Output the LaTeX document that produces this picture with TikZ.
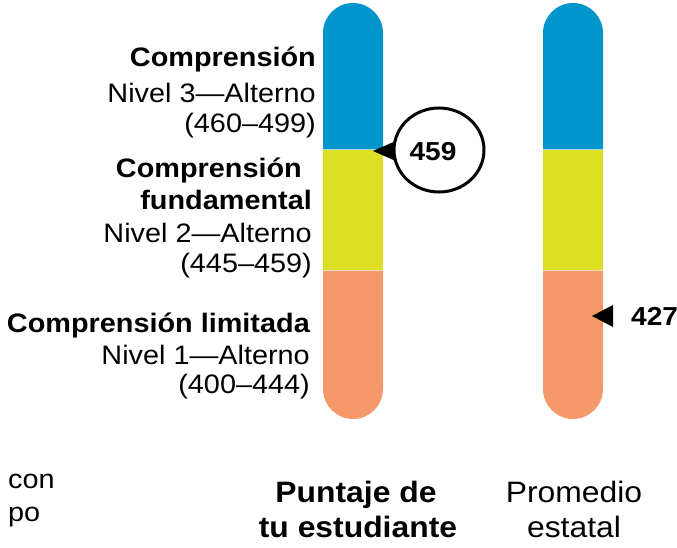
\documentclass[tikz,border=0pt]{standalone}
\usepackage{fontspec}
\setmainfont{Liberation Sans}[FakeStretch=1.08]
\usetikzlibrary{shapes.geometric}
\definecolor{barblue}{RGB}{0,150,204}
\definecolor{baryellow}{RGB}{221,224,34}
\definecolor{barorange}{RGB}{245,152,106}
\begin{document}
\begin{tikzpicture}[x=1pt,y=1pt,
  lbl/.style={font=\fontsize{26.7}{32}\selectfont, inner sep=0pt},
  lblb/.style={font=\fontsize{26.7}{32}\selectfont\bfseries, inner sep=0pt},
  axl/.style={font=\fontsize{29.5}{34}\selectfont, inner sep=0pt},
  axlb/.style={font=\fontsize{29.5}{34}\selectfont\bfseries, inner sep=0pt},
  scorefont/.style={font=\fontsize{26}{30}\selectfont\bfseries},
  pointer/.style={fill=black, draw=none}]
\useasboundingbox (0,0) rectangle (677,-548);
% bar 1
\fill[barblue] (323,-149.5) -- (323,-33) arc (180:0:30) -- (383,-149.5) -- cycle;
\fill[baryellow] (323,-150.5) rectangle (383,-269.5);
\fill[barorange] (323,-270.5) -- (383,-270.5) -- (383,-389) arc (0:-180:30) -- cycle;
% bar 2
\fill[barblue] (543,-149.5) -- (543,-33) arc (180:0:30) -- (603,-149.5) -- cycle;
\fill[baryellow] (543,-150.5) rectangle (603,-269.5);
\fill[barorange] (543,-270.5) -- (603,-270.5) -- (603,-389) arc (0:-180:30) -- cycle;
% left labels
\node[lblb, anchor=base east] (c3a) at (316,-67) {Comprensión};
\node[lbl, anchor=base east] (c3b) at (316,-103) {Nivel 3—Alterno};
\node[lbl, anchor=base east] (c3c) at (316,-133) {(460–499)};
\node[lblb, anchor=base east] (c2a) at (302,-178) {Comprensión};
\node[lblb, anchor=base east] (c2b) at (312,-210) {fundamental};
\node[lbl, anchor=base east] (c2c) at (312,-242) {Nivel 2—Alterno};
\node[lbl, anchor=base east] (c2d) at (312,-272) {(445–459)};
\node[lblb, anchor=base east] (c1a) at (310,-332) {Comprensión limitada};
\node[lbl, anchor=base east] (c1b) at (310,-364) {Nivel 1—Alterno};
\node[lbl, anchor=base east] (c1c) at (310,-393) {(400–444)};
% student score marker
\coordinate (tipA) at (373,-151);
\fill[pointer] (tipA) -- (398,-140) -- (398,-162) -- cycle;
\node[ellipse, draw=black, line width=3pt, fill=white, minimum width=90pt,
      minimum height=84pt, inner sep=0pt] (score) at (439,-150) {};
\node[scorefont, inner sep=0pt] (scoreval) at (433,-152) {459};
% state average marker
\coordinate (tipB) at (592,-316);
\fill[pointer] (tipB) -- (613,-305) -- (613,-327) -- cycle;
\node[scorefont, inner sep=0pt, anchor=base west] (avg) at (631,-325) {427};
% bottom labels
\node[lbl, anchor=base west] (l1) at (8,-488) {con};
\node[lbl, anchor=base west] (l2) at (8,-521) {po};
\node[axlb, anchor=base] (s1) at (356,-502) {Puntaje de};
\node[axlb, anchor=base] (s2) at (358,-537) {tu estudiante};
\node[axl, anchor=base] (p1) at (574,-502) {Promedio};
\node[axl, anchor=base] (p2) at (574,-537) {estatal};
\end{tikzpicture}
\end{document}
